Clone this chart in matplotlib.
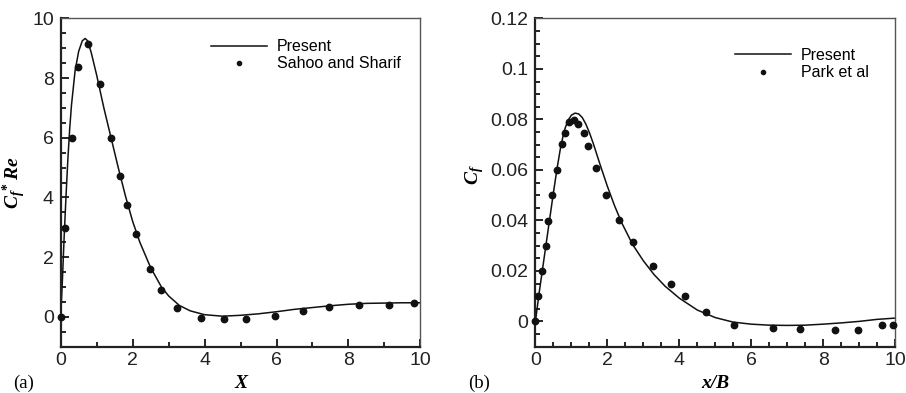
import numpy as np
import matplotlib
matplotlib.use("Agg")
import matplotlib.pyplot as plt
from matplotlib.ticker import MultipleLocator

# ---- panel (a) : Cf*Re vs X
xa_line = [0, 0.05, 0.1, 0.15, 0.2, 0.25, 0.3, 0.4, 0.5, 0.6, 0.68, 0.75, 0.85, 1.0,
           1.2, 1.4, 1.6, 1.8, 2.0, 2.2, 2.5, 2.8, 3.0, 3.3, 3.6, 4.0, 4.5, 5.0,
           5.5, 6.0, 6.5, 7.0, 7.5, 8.0, 8.5, 9.0, 9.5, 10.0]
ya_line = [0, 1.3, 2.8, 4.1, 5.3, 6.3, 7.1, 8.25, 8.9, 9.25, 9.33, 9.25, 8.85, 8.1,
           7.0, 6.0, 5.0, 4.05, 3.2, 2.5, 1.65, 1.0, 0.7, 0.38, 0.2, 0.07, 0.02, 0.05,
           0.1, 0.17, 0.25, 0.31, 0.37, 0.42, 0.45, 0.46, 0.47, 0.47]
xa_pts = [0, 0.13, 0.315, 0.48, 0.76, 1.09, 1.40, 1.65, 1.84, 2.09, 2.49, 2.79,
          3.24, 3.91, 4.54, 5.16, 5.95, 6.73, 7.45, 8.28, 9.13, 9.81]
ya_pts = [0, 2.99, 6.0, 8.36, 9.16, 7.82, 6.0, 4.72, 3.74, 2.76, 1.61, 0.905,
          0.30, -0.03, -0.09, -0.08, 0.02, 0.19, 0.34, 0.41, 0.41, 0.45]

# ---- panel (b) : Cf vs x/B
xb_line = [0, 0.1, 0.2, 0.3, 0.4, 0.5, 0.6, 0.7, 0.8, 0.9, 1.0, 1.1, 1.2, 1.3, 1.4,
           1.5, 1.6, 1.8, 2.0, 2.2, 2.4, 2.7, 3.0, 3.3, 3.6, 4.0, 4.5, 5.0, 5.5,
           6.0, 6.5, 7.0, 7.5, 8.0, 8.5, 9.0, 9.5, 10.0]
yb_line = [0, 0.011, 0.021, 0.031, 0.041, 0.051, 0.0605, 0.069, 0.0755, 0.0795,
           0.0817, 0.0825, 0.0822, 0.0808, 0.0782, 0.0748, 0.0708, 0.0620, 0.0535,
           0.0458, 0.039, 0.0305, 0.024, 0.0185, 0.014, 0.0092, 0.0045, 0.0015,
           -0.0003, -0.0011, -0.0015, -0.0016, -0.0015, -0.0011, -0.0006, 0.0,
           0.0008, 0.0013]
xb_pts = [0, 0.065, 0.195, 0.28, 0.36, 0.47, 0.59, 0.73, 0.835, 0.946, 1.076, 1.19,
          1.34, 1.45, 1.68, 1.95, 2.31, 2.71, 3.28, 3.78, 4.15, 4.75, 5.51, 6.60,
          7.35, 8.32, 8.97, 9.64, 9.93]
yb_pts = [0, 0.0099, 0.0198, 0.0297, 0.0398, 0.0501, 0.060, 0.0703, 0.0748, 0.0789,
          0.0798, 0.0783, 0.0748, 0.0696, 0.0607, 0.0501, 0.0402, 0.0314, 0.0221,
          0.0149, 0.0099, 0.0037, -0.0013, -0.0026, -0.0030, -0.0033, -0.0033,
          -0.0013, -0.0013]

sans = "Liberation Sans"
serif = "Liberation Serif"

plt.rcParams["mathtext.fontset"] = "custom"
plt.rcParams["mathtext.it"] = "Liberation Serif:italic"
plt.rcParams["mathtext.bf"] = "Liberation Serif:bold"
plt.rcParams["mathtext.bfit"] = "Liberation Serif:bold:italic"
plt.rcParams["mathtext.rm"] = "Liberation Serif"


def style_axes(ax, xminor, ymajor, yminor):
    ax.xaxis.set_major_locator(MultipleLocator(2))
    ax.xaxis.set_minor_locator(MultipleLocator(xminor))
    ax.yaxis.set_major_locator(MultipleLocator(ymajor))
    ax.yaxis.set_minor_locator(MultipleLocator(yminor))
    ax.tick_params(which="both", direction="in", top=False, right=False,
                   labelsize=14, width=1.2, labelcolor="#222222")
    ax.tick_params(which="major", length=6)
    ax.tick_params(which="minor", length=3.5)
    ax.tick_params(axis="y", pad=5)
    ax.tick_params(axis="x", pad=4)
    for s in ["left", "bottom"]:
        ax.spines[s].set_linewidth(1.6)
        ax.spines[s].set_color("#222222")
    for s in ["right", "top"]:
        ax.spines[s].set_linewidth(1.0)
        ax.spines[s].set_color("#555555")


def fix_fonts(ax):
    for lbl in ax.get_xticklabels() + ax.get_yticklabels():
        lbl.set_fontfamily(sans)


def main():
    fig = plt.figure(figsize=(9.06, 3.93), dpi=100)
    ax1 = fig.add_axes([0.067, 0.118, 0.397, 0.835])
    ax2 = fig.add_axes([0.591, 0.118, 0.397, 0.835])

    leg_kw = dict(loc="upper left", frameon=False, handlelength=3.5,
                  handletextpad=0.62, labelspacing=0.14, markerscale=0.65,
                  borderaxespad=0, borderpad=0, prop={"family": sans, "size": 11.5})

    # (a)
    ax1.plot(xa_line, ya_line, "-", color="#111111", lw=1.1, label="Present")
    ax1.plot(xa_pts, ya_pts, "o", color="#111111", ms=4.6, label="Sahoo and Sharif",
             clip_on=False, zorder=5)
    ax1.set_xlim(0, 10)
    ax1.set_ylim(-1, 10)
    style_axes(ax1, 1, 2, 0.5)
    fix_fonts(ax1)
    ax1.set_xlabel("X", fontfamily=serif, fontstyle="italic", fontweight="bold",
                   fontsize=14)
    ax1.xaxis.set_label_coords(0.5, -0.086)
    ax1.set_ylabel(r"$\mathbfit{C}_{\mathbfit{f}}{}^{\mathbf{*}}\;\mathbfit{Re}$",
                   fontsize=14)
    ax1.yaxis.set_label_coords(-0.09, 0.5)
    ax1.legend(bbox_to_anchor=(0.418, 0.937), **leg_kw)
    fig.text(0.014, 0.013, "(a)", fontfamily=serif, fontsize=13.5, va="baseline")

    # (b)
    ax2.plot(xb_line, yb_line, "-", color="#111111", lw=1.1, label="Present")
    ax2.plot(xb_pts, yb_pts, "o", color="#111111", ms=4.6, label="Park et al",
             clip_on=False, zorder=5)
    ax2.set_xlim(0, 10)
    ax2.set_ylim(-0.01, 0.12)
    style_axes(ax2, 0.5, 0.02, 0.005)
    ax2.yaxis.set_major_formatter(
        plt.FuncFormatter(lambda v, p: "0" if abs(v) < 1e-9 else f"{v:g}"))
    fix_fonts(ax2)
    ax2.set_xlabel("x/B", fontfamily=serif, fontstyle="italic", fontweight="bold",
                   fontsize=14)
    ax2.xaxis.set_label_coords(0.5, -0.086)
    ax2.set_ylabel(r"$\mathbfit{C}_{\mathbfit{f}}$", fontsize=14)
    ax2.yaxis.set_label_coords(-0.137, 0.523)
    ax2.legend(bbox_to_anchor=(0.556, 0.91), **leg_kw)
    fig.text(0.517, 0.013, "(b)", fontfamily=serif, fontsize=13.5, va="baseline")

    fig.savefig("out.png", dpi=100)


if __name__ == "__main__":
    main()
